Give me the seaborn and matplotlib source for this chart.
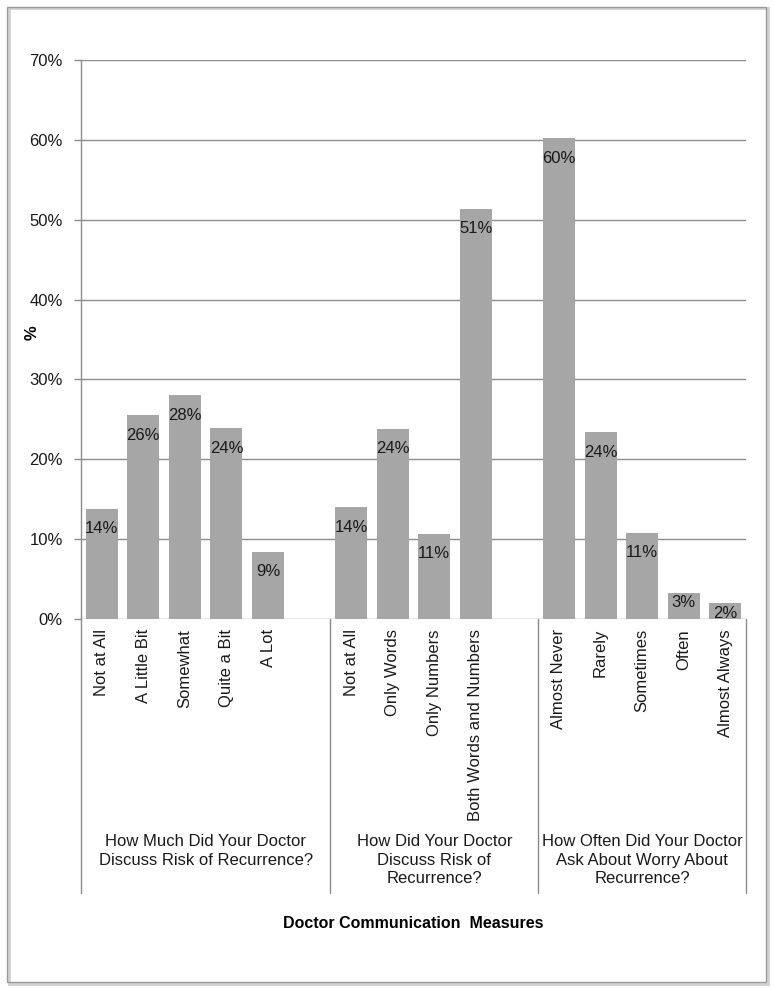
import matplotlib
matplotlib.use("Agg")
import matplotlib.pyplot as plt
import seaborn as sns
import pandas as pd
import numpy as np
from matplotlib.patches import Rectangle
from matplotlib.lines import Line2D

# ---- data ----
group_titles = [
    "How Much Did Your Doctor\nDiscuss Risk of Recurrence?",
    "How Did Your Doctor\nDiscuss Risk of\nRecurrence?",
    "How Often Did Your Doctor\nAsk About Worry About\nRecurrence?",
]
g1_labels = ["Not at All", "A Little Bit", "Somewhat", "Quite a Bit", "A Lot"]
g1_values = [13.8, 25.5, 28.0, 23.9, 8.4]
g1_text = ["14%", "26%", "28%", "24%", "9%"]
g2_labels = ["Not at All", "Only Words", "Only Numbers", "Both Words and Numbers"]
g2_values = [14.0, 23.8, 10.7, 51.4]
g2_text = ["14%", "24%", "11%", "51%"]
g3_labels = ["Almost Never", "Rarely", "Sometimes", "Often", "Almost Always"]
g3_values = [60.2, 23.4, 10.8, 3.3, 2.0]
g3_text = ["60%", "24%", "11%", "3%", "2%"]
y_ticks = [0, 10, 20, 30, 40, 50, 60, 70]
x_title = "Doctor Communication  Measures"
y_title = "%"

# ---- build table with slot positions (one blank slot between groups) ----
groups = [(g1_labels, g1_values, g1_text), (g2_labels, g2_values, g2_text), (g3_labels, g3_values, g3_text)]
rows = []
group_bounds = []
pos = 0
for gi, (labs, vals, txts) in enumerate(groups):
    start = pos
    for l, v, t in zip(labs, vals, txts):
        rows.append(dict(pos=pos, value=v, label=l, text=t, group=gi))
        pos += 1
    end = pos  # blank slot
    group_bounds.append((start - 0.5, end + 0.5 if gi < len(groups) - 1 else end - 0.5))
    pos += 1
df = pd.DataFrame(rows)
n_slots = pos - 1

sns.set_theme(style="white")
plt.rcParams["font.family"] = ["Liberation Sans", "DejaVu Sans"]

W, H = 774, 989
fig = plt.figure(figsize=(W / 100, H / 100), dpi=100)
ax_l, ax_r, ax_t, ax_b = 81, 746, 60, 619
ax = fig.add_axes([ax_l / W, 1 - ax_b / H, (ax_r - ax_l) / W, (ax_b - ax_t) / H])

grid_c = "#8C8C8C"
bar_c = "#A6A6A6"

sns.barplot(data=df, x="pos", y="value", native_scale=True, color=bar_c,
            width=0.77, saturation=1, linewidth=0, ax=ax, zorder=3)

ax.set_xlim(-0.5, n_slots - 0.5)
ax.set_ylim(0, 70)
ax.set_yticks(y_ticks)
ax.set_yticklabels([f"{t}%" for t in y_ticks], fontsize=12, color="#1a1a1a")
ax.set_xticks([])
ax.set_xlabel("")
ax.set_ylabel("")
for yt in y_ticks:
    ax.axhline(yt, color=grid_c, lw=1, zorder=1)
for s in ["top", "right", "bottom"]:
    ax.spines[s].set_visible(False)
ax.spines["left"].set_color(grid_c)
ax.spines["left"].set_linewidth(1)
ax.tick_params(axis="y", which="major", left=True, length=5, width=1, color=grid_c, pad=8)

# value labels inside bar ends
px_per_unit = (ax_b - ax_t) / 70.0
for _, r in df.iterrows():
    h_px = r["value"] * px_per_unit
    off = 20 if h_px > 40 else 10
    ax.annotate(r["text"], (r["pos"], r["value"]), xytext=(0, -off),
                textcoords="offset pixels", ha="center", va="center",
                fontsize=12, color="#1a1a1a", zorder=4)

# category labels (rotated)
to_px_x = lambda x: ax_l + (x + 0.5) * (ax_r - ax_l) / n_slots
for _, r in df.iterrows():
    fx = to_px_x(r["pos"]) / W
    fig.text(fx, 1 - 629 / H, r["label"], rotation=90, ha="center", va="top",
             fontsize=12, color="#1a1a1a")

# group separators and titles
sep_positions = [-0.5] + [b[1] for b in group_bounds]
for sx in sep_positions:
    fx = to_px_x(sx) / W
    fig.add_artist(Line2D([fx, fx], [1 - ax_b / H, 1 - 893 / H], color=grid_c, lw=1))
for gi in range(len(group_bounds)):
    left = sep_positions[gi]
    right = sep_positions[gi + 1]
    cx = to_px_x((left + right) / 2) / W
    fig.text(cx, 1 - 834 / H, group_titles[gi], ha="center", va="top",
             fontsize=12, color="#1a1a1a", linespacing=1.3, multialignment="center")

# axis titles
fig.text((ax_l + ax_r) / 2 / W, 1 - 924 / H, x_title, ha="center", va="center",
         fontsize=11.5, fontweight="bold", color="black")
fig.text(32 / W, 1 - 333 / H, y_title, ha="center", va="center", rotation=90,
         fontsize=12, fontweight="bold", color="black")

# chart border
fig.add_artist(Rectangle((9 / W, 1 - 984 / H), 759 / W, 976 / H, transform=fig.transFigure,
                         fill=False, edgecolor="#D0D0D0", lw=2))
fig.add_artist(Rectangle((7 / W, 1 - 982 / H), 759 / W, 975 / H, transform=fig.transFigure,
                         fill=False, edgecolor="#9A9A9A", lw=1))

fig.savefig("out.png", dpi=100, facecolor="white")
